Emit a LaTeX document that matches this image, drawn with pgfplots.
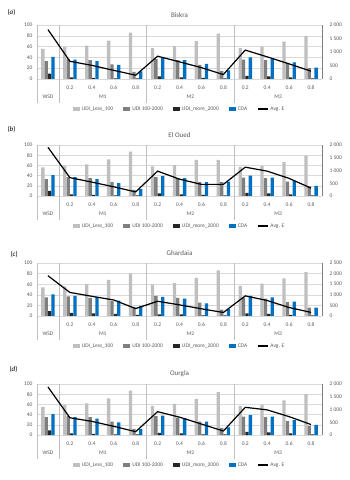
\documentclass[border=0pt]{standalone}
\usepackage{fontspec}
\setmainfont{Carlito}
\usepackage{pgfplots}
\usepackage{pgfplotstable}
\pgfplotsset{compat=1.18}

\definecolor{udilow}{HTML}{BFBFBF}
\definecolor{udimid}{HTML}{7F7F7F}
\definecolor{udihigh}{HTML}{262626}
\definecolor{cda}{HTML}{0070C0}
\definecolor{txt}{HTML}{595959}
\definecolor{gridc}{HTML}{D9D9D9}
\definecolor{sepc}{HTML}{BFBFBF}

\pgfplotsset{
  sqlegend/.style={legend image code/.code={\fill[#1] (0pt,-1.6pt) rectangle (7pt,1.6pt);}},
  lnlegend/.style={legend image code/.code={\draw[#1] (0pt,0pt) -- (10pt,0pt);}},
}
\tikzset{
  sepline/.style={sepc, line width=0.5pt},
  lab/.style={font=\fontsize{5.5}{6}\selectfont, text=txt},
}

% columns: x = category (0 WSD, 1-4 M1, 5-8 M2, 9-12 M3)
\pgfplotstableread{
x  L  M  H  C  E
0  56 33 10 41 1830
1  59 37 3  36 655
2  62 35 2  33 505
3  71 27 1  26 320
4  86 13 1  14 140
5  57 37 5  39 845
6  61 35 3  35 635
7  70 26 2  28 420
8  84 15 1  16 165
9  57 36 6  40 1070
10 60 35 5  37 820
11 69 30 3  31 560
12 80 20 1  21 290
}\biskra

\pgfplotstableread{
x  L  M  H  C  E
0  56 33 10 41 1910
1  59 37 3  37 720
2  62 35 2  33 545
3  72 27 1  25 360
4  87 12 1  14 160
5  58 37 5  39 975
6  61 35 3  35 660
7  71 27 2  27 455
8  71 27 1  28 455
9  57 36 6  40 1130
10 59 35 5  36 975
11 67 28 3  29 690
12 79 19 1  20 310
}\eloued

\pgfplotstableread{
x  L  M  H  C  E
0  54 35 9  41 1900
1  56 37 6  38 1110
2  60 34 5  36 930
3  68 28 4  29 755
4  80 17 2  19 350
5  59 38 3  36 695
6  62 34 3  33 525
7  72 25 1  24 340
8  86 12 1  13 165
9  57 35 5  38 950
10 61 33 4  35 730
11 71 26 2  27 400
12 83 16 1  16 170
}\ghardaia

\pgfplotstableread{
x  L  M  H  C  E
0  55 35 9  41 1885
1  59 37 3  35 675
2  62 35 2  32 535
3  72 26 1  25 340
4  87 12 1  12 130
5  57 37 4  38 915
6  61 34 3  33 700
7  71 26 1  26 430
8  84 14 1  15 155
9  57 36 6  39 1085
10 59 35 5  36 985
11 68 27 3  29 720
12 80 18 1  20 410
}\ourgla

% #1 axis bottom, #2 axis height, #3 table, #4 title, #5 letter,
% #6 right ymax, #7/#8 panel label position
\newcommand{\panel}[8]{%
  \begin{axis}[
    at={(37pt,#1pt)}, anchor=south west, scale only axis,
    width=285pt, height=#2pt,
    xmin=-0.5, xmax=12.5, ymin=0, ymax=100,
    ybar, bar width=3.3pt,
    xtick={1,...,12},
    xticklabels={0.2,0.4,0.6,0.8,0.2,0.4,0.6,0.8,0.2,0.4,0.6,0.8},
    ytick={0,20,...,100},
    ymajorgrids, grid style={gridc, line width=0.5pt},
    axis line style={draw=none}, major tick length=0pt,
    tick label style={font=\fontsize{5.5}{6}\selectfont, text=txt},
    xticklabel style={anchor=center, yshift=-9pt},
    yticklabel style={anchor=east, xshift=-1pt},
    /pgf/number format/assume math mode=true,
    clip=false,
    legend style={at={(0.5,0)}, anchor=center, yshift=-30pt, draw=none, fill=none,
      font=\fontsize{5.5}{6}\selectfont, text=txt, legend columns=-1,
      /tikz/every even column/.append style={column sep=8pt}},
  ]
    \addplot[fill=udilow, draw=none, bar shift=-5.1pt, sqlegend] table[x=x, y=L] {#3};
    \addlegendentry{UDI\_Less\_100}
    \addplot[fill=udimid, draw=none, bar shift=-1.7pt, sqlegend] table[x=x, y=M] {#3};
    \addlegendentry{UDI 100-2000}
    \addplot[fill=udihigh, draw=none, bar shift=1.7pt, sqlegend] table[x=x, y=H] {#3};
    \addlegendentry{UDI\_more\_2000}
    \addplot[fill=cda, draw=none, bar shift=5.1pt, sqlegend] table[x=x, y=C] {#3};
    \addlegendentry{CDA}
    \addlegendimage{black, line width=1.2pt, lnlegend}
    \addlegendentry{Avg. E}

    % multi-level category axis
    \draw[sepline] (axis cs:-0.5,100) -- ([yshift=-24pt]axis cs:-0.5,0);
    \draw[sepline] (axis cs:0.5,100) -- ([yshift=-24pt]axis cs:0.5,0);
    \draw[sepline] (axis cs:4.5,100) -- ([yshift=-24pt]axis cs:4.5,0);
    \draw[sepline] (axis cs:8.5,100) -- ([yshift=-24pt]axis cs:8.5,0);
    \node[lab] at ([yshift=-18pt]axis cs:0,0) {WSD};
    \node[lab] at ([yshift=-18pt]axis cs:2.5,0) {M1};
    \node[lab] at ([yshift=-18pt]axis cs:6.5,0) {M2};
    \node[lab] at ([yshift=-18pt]axis cs:10.5,0) {M3};
    \node[font=\fontsize{7}{8}\selectfont, text=txt] at ([yshift=10pt]axis cs:6,100) {#4};
  \end{axis}
  \begin{axis}[
    at={(37pt,#1pt)}, anchor=south west, scale only axis,
    width=285pt, height=#2pt,
    xmin=-0.5, xmax=12.5, ymin=0, ymax=#6,
    axis x line=none, axis y line*=right,
    ytick={0,500,...,#6},
    y axis line style={draw=udimid, line width=0.6pt},
    major tick length=0pt,
    tick label style={font=\fontsize{5.5}{6}\selectfont, text=txt},
    yticklabel style={anchor=west, xshift=4pt},
    /pgf/number format/assume math mode=true,
    /pgf/number format/1000 sep={\ },
  ]
    \addplot[black, line width=1.2pt, mark=none] table[x=x, y=E] {#3};
  \end{axis}
  \node[font=\fontsize{7}{8}\selectfont, anchor=west] at (#7pt,#8pt) {(\textit{#5})};
}

\begin{document}
\begin{tikzpicture}
  \useasboundingbox (0,0) rectangle (349pt,480pt);
  \panel{401}{54}{\biskra}{Biskra}{a}{2000}{4}{468}
  \panel{284}{51}{\eloued}{El Oued}{b}{2000}{4}{351}
  \panel{164}{53}{\ghardaia}{Ghardaia}{c}{2500}{7}{226}
  \panel{45}{51}{\ourgla}{Ourgla}{d}{2000}{6}{111}
\end{tikzpicture}
\end{document}
